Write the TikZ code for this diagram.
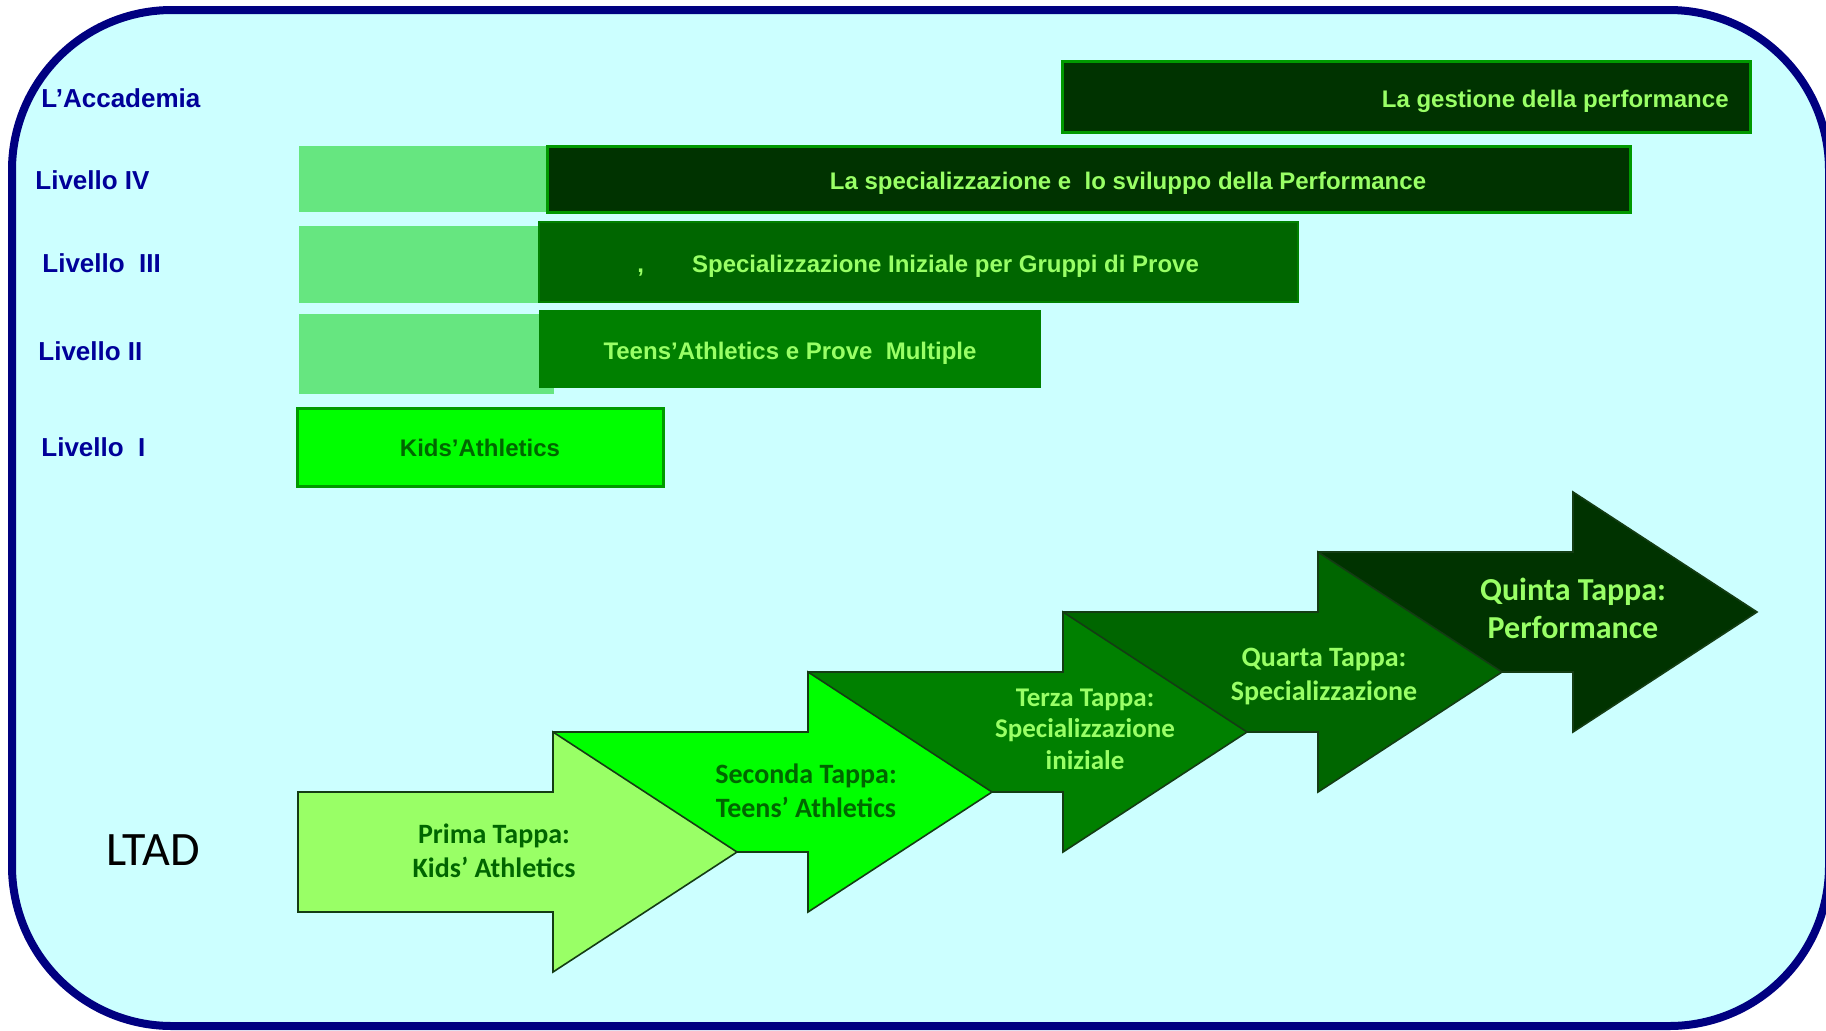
\documentclass[tikz,border=0pt]{standalone}
\usepackage{fontspec}
\setmainfont{Liberation Sans}
\newfontfamily\tappafont{Carlito}
\usepackage{xcolor}
\usepackage{tikz}
\usetikzlibrary{positioning}

\definecolor{sfondo}{HTML}{CCFFFF}
\definecolor{cornice}{HTML}{000080}
\definecolor{navytext}{HTML}{000099}
\definecolor{barlight}{HTML}{99FF66}
\definecolor{fillergreen}{HTML}{66E680}
\definecolor{verdeI}{HTML}{99FF66}
\definecolor{verdeII}{HTML}{00FF00}
\definecolor{verdeIII}{HTML}{008000}
\definecolor{verdeIV}{HTML}{006600}
\definecolor{verdeV}{HTML}{003300}
\definecolor{bordo}{HTML}{009900}
\definecolor{arrowline}{HTML}{143C14}

\begin{document}
\begin{tikzpicture}[
        x=0.5pt, y=-0.5pt,
        livello/.style={anchor=west, inner sep=0pt, text=navytext, font=\bfseries\fontsize{13}{15}\selectfont},
        bartext/.style={inner sep=0pt, text=barlight, font=\bfseries\fontsize{12}{14}\selectfont},
        filler/.style={fill=fillergreen, draw=none},
        bar/.style={draw=bordo, line width=1.5pt},
        tappa/.style={draw=arrowline, line width=0.8pt, line join=miter},
        tappatext/.style={align=center, inner sep=0pt, font=\tappafont\bfseries\fontsize{14}{17}\selectfont}
    ]
    \useasboundingbox (0,0) rectangle (1826,1030);

    % Background frame
    \draw [line width=4pt, draw=cornice, fill=sfondo, rounded corners=80pt] (12,10) rectangle (1829,1026);

    % Level labels
    \node [livello] (accademia) at (41,98) {L’Accademia};
    \node [livello] (livIV) at (35,180) {Livello IV};
    \node [livello] (livIII) at (42,263) {Livello\ \ III};
    \node [livello] (livII) at (38,351) {Livello II};
    \node [livello] (livI) at (41,447) {Livello\ \ I};

    % Bars
    \draw [bar, fill=verdeV] (1062,61) rectangle (1750,132);
    \node [bartext, anchor=east] (gestione) at (1729,101) {La gestione della performance};

    \fill [filler] (299,146) rectangle (547,212);
    \draw [bar, fill=verdeV] (547,146) rectangle (1630,212);
    \node [bartext] (sviluppo) at (1128,183) {La specializzazione e\ \ lo sviluppo della Performance};

    \fill [filler] (299,226) rectangle (539,303);
    \draw [draw=verdeIII, line width=1pt, fill=verdeIV] (539,222) rectangle (1298,302);
    \node [bartext, anchor=west] (gruppi) at (637,266) {,\hspace{24pt}Specializzazione Iniziale per Gruppi di Prove};

    \fill [filler] (299,314) rectangle (554,394);
    \fill [verdeIII] (539,310) rectangle (1041,388);
    \node [bartext] (multiple) at (790,353) {Teens’Athletics e Prove\ \ Multiple};

    \draw [bar, fill=verdeII] (297,408) rectangle (663,486);
    \node [bartext, text=verdeIV] (kids) at (480,448) {Kids’Athletics};

    % LTAD arrows (last one first)
    \draw [tappa, fill=verdeV] (1318,552) -- (1573,552) -- (1573,492) -- (1757,612) -- (1573,732) -- (1573,672) -- (1318,672) -- cycle;
    \draw [tappa, fill=verdeIV] (1063,612) -- (1318,612) -- (1318,552) -- (1502,672) -- (1318,792) -- (1318,732) -- (1063,732) -- cycle;
    \draw [tappa, fill=verdeIII] (808,672) -- (1063,672) -- (1063,612) -- (1247,732) -- (1063,852) -- (1063,792) -- (808,792) -- cycle;
    \draw [tappa, fill=verdeII] (553,732) -- (808,732) -- (808,672) -- (992,792) -- (808,912) -- (808,852) -- (553,852) -- cycle;
    \draw [tappa, fill=verdeI] (298,792) -- (553,792) -- (553,732) -- (737,852) -- (553,972) -- (553,912) -- (298,912) -- cycle;

    \node [tappatext, text=verdeIV] (prima) at (494,851) {Prima Tappa:\\Kids’ Athletics};
    \node [tappatext, text=verdeIV] (seconda) at (806,791) {Seconda Tappa:\\Teens’ Athletics};
    \node [tappatext, text=barlight, font=\tappafont\bfseries\fontsize{13.5}{15.7}\selectfont] (terza) at (1085,729) {Terza Tappa:\\Specializzazione\\iniziale};
    \node [tappatext, text=barlight] (quarta) at (1324,677) {Quarta Tappa:\\Specializzazione};
    \node [tappatext, text=barlight, font=\tappafont\bfseries\fontsize{16}{19}\selectfont] (quinta) at (1573,608) {Quinta Tappa:\\Performance};

    \node [font=\tappafont\fontsize{24}{27}\selectfont] (ltad) at (153,850) {LTAD};

\end{tikzpicture}
\end{document}
